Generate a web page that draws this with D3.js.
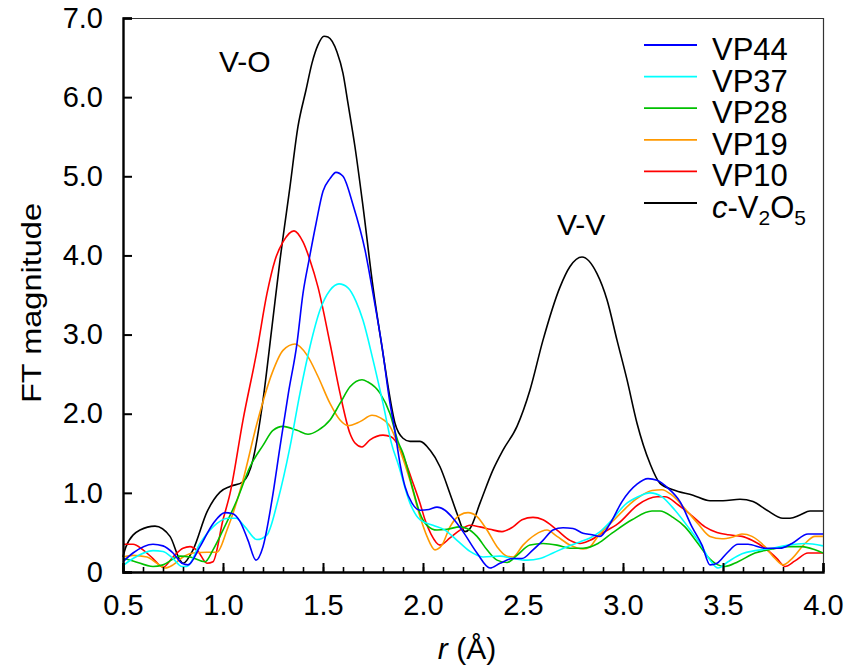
<!DOCTYPE html>
<html>
<head>
<meta charset="utf-8">
<script src="https://cdn.jsdelivr.net/npm/d3@7"></script>
<style>
  body { margin: 0; background: #fff; }
  text { font-family: "Liberation Sans", Arial, sans-serif; fill: #000; }
</style>
</head>
<body>
<div id="chart"></div>
<script>
// r (Å) / FT magnitude pairs
const v2o5 = [[0.50,0.19],[0.515,0.32],[0.585,0.53],[0.66,0.58],[0.735,0.45],[0.785,0.15],[0.80,0.11],[0.85,0.28],[0.92,0.76],[0.985,1.01],[1.035,1.08],[1.10,1.14],[1.15,1.42],[1.20,2.17],[1.245,3.10],[1.285,3.94],[1.335,4.87],[1.375,5.63],[1.415,6.09],[1.445,6.43],[1.475,6.66],[1.505,6.77],[1.525,6.76],[1.57,6.57],[1.60,6.30],[1.625,5.92],[1.66,5.37],[1.70,4.62],[1.75,3.60],[1.80,2.76],[1.82,2.43],[1.86,1.88],[1.90,1.69],[1.935,1.65],[1.985,1.65],[2.035,1.54],[2.085,1.33],[2.135,0.99],[2.17,0.74],[2.21,0.51],[2.235,0.55],[2.285,0.87],[2.35,1.29],[2.40,1.54],[2.47,1.84],[2.535,2.30],[2.60,2.93],[2.685,3.60],[2.735,3.86],[2.795,3.98],[2.87,3.77],[2.92,3.44],[2.97,2.93],[3.02,2.43],[3.07,1.88],[3.135,1.37],[3.185,1.12],[3.25,1.04],[3.35,0.97],[3.435,0.90],[3.50,0.90],[3.585,0.92],[3.65,0.89],[3.72,0.78],[3.80,0.68],[3.835,0.68],[3.885,0.72],[3.935,0.77],[4.00,0.77]];

const vp10 = [[0.50,0.35],[0.55,0.35],[0.60,0.28],[0.65,0.17],[0.70,0.06],[0.75,0.19],[0.80,0.30],[0.835,0.32],[0.875,0.26],[0.92,0.11],[0.95,0.13],[1.00,0.66],[1.035,0.99],[1.10,1.92],[1.17,2.80],[1.22,3.52],[1.26,3.94],[1.30,4.17],[1.355,4.31],[1.40,4.17],[1.435,3.94],[1.475,3.60],[1.535,2.89],[1.585,2.26],[1.635,1.75],[1.66,1.63],[1.695,1.58],[1.735,1.67],[1.80,1.73],[1.84,1.71],[1.885,1.56],[1.945,1.16],[1.985,0.87],[2.01,0.66],[2.04,0.48],[2.085,0.34],[2.135,0.43],[2.185,0.53],[2.235,0.59],[2.285,0.57],[2.335,0.54],[2.395,0.51],[2.45,0.57],[2.495,0.66],[2.55,0.69],[2.60,0.66],[2.67,0.53],[2.735,0.40],[2.785,0.36],[2.835,0.40],[2.895,0.49],[2.975,0.61],[3.075,0.85],[3.17,0.95],[3.21,0.95],[3.275,0.85],[3.345,0.71],[3.41,0.57],[3.47,0.50],[3.525,0.47],[3.595,0.45],[3.645,0.40],[3.71,0.30],[3.77,0.17],[3.81,0.07],[3.86,0.14],[3.925,0.24],[4.00,0.24]];

const vp19 = [[0.50,0.19],[0.55,0.21],[0.62,0.19],[0.67,0.11],[0.71,0.05],[0.75,0.09],[0.80,0.19],[0.85,0.24],[0.92,0.25],[0.97,0.25],[1.02,0.53],[1.10,1.16],[1.17,1.88],[1.245,2.51],[1.30,2.80],[1.36,2.88],[1.42,2.74],[1.475,2.47],[1.535,2.13],[1.585,1.92],[1.625,1.85],[1.685,1.90],[1.745,1.98],[1.785,1.95],[1.835,1.84],[1.885,1.54],[1.935,1.16],[1.985,0.70],[2.02,0.45],[2.06,0.28],[2.095,0.34],[2.135,0.57],[2.185,0.72],[2.225,0.75],[2.27,0.70],[2.32,0.53],[2.37,0.32],[2.42,0.20],[2.45,0.19],[2.50,0.34],[2.56,0.47],[2.62,0.53],[2.67,0.45],[2.735,0.34],[2.80,0.29],[2.835,0.32],[2.875,0.45],[2.96,0.67],[3.06,0.91],[3.145,1.03],[3.195,1.04],[3.245,0.97],[3.31,0.80],[3.375,0.61],[3.435,0.45],[3.495,0.42],[3.545,0.44],[3.595,0.48],[3.645,0.45],[3.71,0.32],[3.76,0.17],[3.80,0.09],[3.845,0.17],[3.91,0.36],[3.96,0.45],[4.00,0.45]];

const vp28 = [[0.50,0.17],[0.55,0.14],[0.65,0.07],[0.70,0.09],[0.785,0.20],[0.835,0.19],[0.91,0.13],[0.95,0.28],[1.00,0.53],[1.07,0.91],[1.135,1.33],[1.20,1.60],[1.25,1.79],[1.30,1.84],[1.37,1.79],[1.425,1.74],[1.475,1.79],[1.535,1.92],[1.585,2.13],[1.635,2.34],[1.695,2.43],[1.725,2.40],[1.785,2.26],[1.835,2.00],[1.875,1.65],[1.90,1.50],[1.95,1.04],[1.985,0.74],[2.02,0.59],[2.07,0.53],[2.12,0.54],[2.185,0.57],[2.22,0.55],[2.27,0.45],[2.32,0.28],[2.37,0.15],[2.42,0.12],[2.47,0.21],[2.535,0.34],[2.60,0.36],[2.67,0.34],[2.735,0.30],[2.80,0.30],[2.875,0.36],[2.945,0.49],[3.045,0.66],[3.145,0.77],[3.185,0.77],[3.25,0.69],[3.31,0.57],[3.375,0.36],[3.425,0.19],[3.475,0.09],[3.51,0.07],[3.575,0.13],[3.66,0.24],[3.745,0.29],[3.825,0.32],[3.895,0.32],[3.96,0.28],[4.00,0.24]];

const vp37 = [[0.50,0.08],[0.55,0.17],[0.65,0.27],[0.70,0.26],[0.75,0.17],[0.795,0.07],[0.82,0.07],[0.885,0.36],[0.95,0.57],[1.025,0.68],[1.065,0.68],[1.11,0.57],[1.17,0.41],[1.22,0.47],[1.275,0.91],[1.335,1.58],[1.385,2.26],[1.435,2.85],[1.485,3.31],[1.535,3.56],[1.58,3.64],[1.625,3.59],[1.665,3.42],[1.70,3.18],[1.75,2.68],[1.80,2.13],[1.845,1.60],[1.875,1.37],[1.935,0.87],[1.985,0.66],[2.05,0.59],[2.11,0.53],[2.17,0.40],[2.235,0.26],[2.30,0.19],[2.385,0.20],[2.45,0.17],[2.52,0.15],[2.585,0.17],[2.65,0.24],[2.72,0.32],[2.785,0.38],[2.835,0.43],[2.875,0.49],[2.945,0.66],[3.01,0.85],[3.075,0.95],[3.135,1.00],[3.195,0.95],[3.26,0.78],[3.325,0.57],[3.395,0.32],[3.435,0.15],[3.475,0.05],[3.525,0.13],[3.595,0.23],[3.66,0.27],[3.745,0.30],[3.825,0.34],[3.91,0.36],[4.00,0.33]];

const vp44 = [[0.50,0.13],[0.55,0.24],[0.65,0.35],[0.70,0.33],[0.75,0.24],[0.795,0.11],[0.825,0.09],[0.885,0.32],[0.95,0.61],[1.01,0.75],[1.045,0.74],[1.085,0.64],[1.125,0.40],[1.165,0.15],[1.20,0.32],[1.245,0.91],[1.285,1.58],[1.327,2.26],[1.37,2.89],[1.40,3.52],[1.43,3.94],[1.465,4.40],[1.50,4.81],[1.535,4.97],[1.565,5.05],[1.60,5.00],[1.65,4.64],[1.71,4.07],[1.75,3.52],[1.795,2.85],[1.835,2.13],[1.855,1.85],[1.885,1.37],[1.91,1.08],[1.945,0.87],[1.985,0.78],[2.03,0.79],[2.07,0.82],[2.11,0.78],[2.15,0.68],[2.20,0.51],[2.27,0.24],[2.335,0.05],[2.385,0.11],[2.45,0.17],[2.495,0.17],[2.55,0.28],[2.60,0.40],[2.65,0.53],[2.70,0.56],[2.75,0.55],[2.80,0.49],[2.845,0.47],[2.885,0.45],[2.935,0.61],[2.995,0.89],[3.07,1.11],[3.125,1.18],[3.17,1.16],[3.225,1.06],[3.285,0.89],[3.345,0.57],[3.395,0.34],[3.435,0.09],[3.47,0.11],[3.52,0.24],[3.575,0.35],[3.625,0.35],[3.71,0.30],[3.785,0.30],[3.845,0.36],[3.925,0.48],[4.00,0.48]];

const seriesNames = ['VP44', 'VP37', 'VP28', 'VP19', 'VP10', 'c-V2O5'];
const seriesColors = ['#0000ff', '#00ffff', '#00c000', '#ff9900', '#ff0000', '#000000'];
const seriesData = [vp44, vp37, vp28, vp19, vp10, v2o5];

const xTicks = [0.5, 1.0, 1.5, 2.0, 2.5, 3.0, 3.5, 4.0];
const yTicks = [0, 1, 2, 3, 4, 5, 6, 7];

const width = 847, height = 671;
const margin = { left: 123, right: 24, top: 18, bottom: 99 };

const svg = d3.select('#chart').append('svg')
  .attr('width', width)
  .attr('height', height);

const x = d3.scaleLinear().domain([0.5, 4.0]).range([margin.left, width - margin.right]);
const y = d3.scaleLinear().domain([0, 7]).range([height - margin.bottom, margin.top]);

// frame: top and right thin
svg.append('line')
  .attr('x1', x(0.5)).attr('x2', x(4.0))
  .attr('y1', y(7) + 0.5).attr('y2', y(7) + 0.5)
  .attr('stroke', '#333').attr('stroke-width', 1.2);
svg.append('line')
  .attr('x1', x(4.0) + 0.5).attr('x2', x(4.0) + 0.5)
  .attr('y1', y(7)).attr('y2', y(0))
  .attr('stroke', '#333').attr('stroke-width', 1.2);

// curves
const line = d3.line()
  .x(d => x(d[0]))
  .y(d => y(d[1]))
  .curve(d3.curveMonotoneX);

const drawOrder = [5, 4, 3, 2, 1, 0];
drawOrder.forEach(i => {
  svg.append('path')
    .datum(seriesData[i])
    .attr('d', line)
    .attr('fill', 'none')
    .attr('stroke', seriesColors[i])
    .attr('stroke-width', 1.6)
    .attr('stroke-linejoin', 'round');
});

// x axis: ticks pointing inward, minor every 0.1
const xMinor = d3.range(5, 41).map(d => d / 10);
svg.append('g')
  .attr('transform', `translate(0,${y(0)})`)
  .call(d3.axisBottom(x).tickValues(xMinor).tickSize(-5).tickFormat(''))
  .call(g => g.select('.domain').remove())
  .call(g => g.selectAll('line').attr('stroke-width', 1.6));

const xAxis = svg.append('g')
  .attr('transform', `translate(0,${y(0)})`)
  .call(d3.axisBottom(x).tickValues(xTicks).tickSize(-9).tickPadding(22).tickFormat(d3.format('.1f')));
xAxis.select('.domain').attr('stroke-width', 2.4);
xAxis.selectAll('line').attr('stroke-width', 2);
xAxis.selectAll('text')
  .attr('font-size', 29)
  .attr('font-family', '"Liberation Sans", Arial, sans-serif')
  .attr('fill', '#000');

const yAxis = svg.append('g')
  .attr('transform', `translate(${x(0.5)},0)`)
  .call(d3.axisLeft(y).tickValues(yTicks).tickSize(-9).tickPadding(20)
    .tickFormat(d => d === 0 ? '0' : d3.format('.1f')(d)));
yAxis.select('.domain').attr('stroke-width', 2.4);
yAxis.selectAll('line').attr('stroke-width', 2);
yAxis.selectAll('text')
  .attr('font-size', 29)
  .attr('font-family', '"Liberation Sans", Arial, sans-serif')
  .attr('fill', '#000');

// axis titles
svg.append('text')
  .attr('transform', `translate(41,${(y(0) + y(7)) / 2 + 8}) rotate(-90)`)
  .attr('text-anchor', 'middle')
  .attr('font-size', 27)
  .attr('textLength', 200)
  .attr('lengthAdjust', 'spacingAndGlyphs')
  .text('FT magnitude');

const xTitle = svg.append('text')
  .attr('x', (x(0.5) + x(4.0)) / 2 - 6)
  .attr('y', 659)
  .attr('text-anchor', 'middle')
  .attr('font-size', 30);
xTitle.append('tspan').attr('font-style', 'italic').text('r');
xTitle.append('tspan').text(' (Å)');

// peak labels
svg.append('text').attr('x', x(0.98)).attr('y', 72).attr('font-size', 30).text('V-O');
svg.append('text').attr('x', x(2.67)).attr('y', 235).attr('font-size', 30).text('V-V');

// legend
const legend = svg.append('g');
seriesNames.forEach((name, i) => {
  const yy = 45 + i * 31.6;
  legend.append('line')
    .attr('x1', 644).attr('x2', 697)
    .attr('y1', yy).attr('y2', yy)
    .attr('stroke', seriesColors[i])
    .attr('stroke-width', 1.8);
  const t = legend.append('text')
    .attr('x', 712)
    .attr('y', yy + 15)
    .attr('font-size', 31);
  if (name === 'c-V2O5') {
    t.append('tspan').attr('font-style', 'italic').text('c');
    t.append('tspan').text('-V');
    t.append('tspan').attr('font-size', 21).attr('dy', 7).text('2');
    t.append('tspan').attr('dy', -7).text('O');
    t.append('tspan').attr('font-size', 21).attr('dy', 7).text('5');
  } else {
    t.text(name);
  }
});
</script>
</body>
</html>
